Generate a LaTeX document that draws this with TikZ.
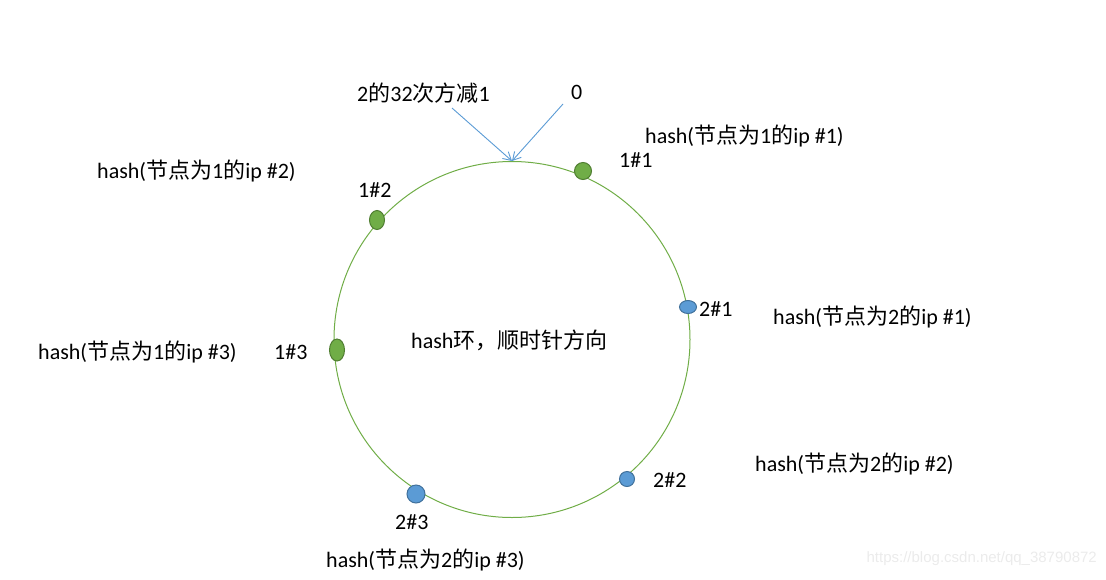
\documentclass[tikz,border=0pt]{standalone}
\usepackage{fontspec}
\setmainfont{Carlito}
\newfontfamily\cjk{Noto Sans CJK SC}
\newfontfamily\wmfont{Liberation Sans}
\usetikzlibrary{arrows.meta,shapes.geometric}
\newcommand{\zh}[1]{{\cjk #1}}
\definecolor{ogreen}{HTML}{70AD47}
\definecolor{ogreend}{HTML}{507E32}
\definecolor{oblue}{HTML}{5B9BD5}
\definecolor{oblued}{HTML}{41719C}
\tikzset{
  lbl/.style={anchor=west,inner sep=0pt,font=\fontsize{22}{26}\selectfont},
  gdot/.style={ellipse,draw=ogreend,fill=ogreen,line width=1pt,inner sep=0pt},
  bdot/.style={ellipse,draw=oblued,fill=oblue,line width=1pt,inner sep=0pt},
  ptr/.style={draw=oblue,line width=0.9pt,-{Straight Barb[length=8pt,width=9pt]}}
}
\begin{document}
\begin{tikzpicture}[x=1pt,y=-1pt]
\useasboundingbox (0,0) rectangle (1106,579);
\node[draw=ogreen,line width=1pt,circle,minimum size=356pt,inner sep=0pt] (ring) at (512,339.5) {};
% dots
\node[gdot,minimum width=17pt,minimum height=17pt] (d11) at (583,171) {};
\node[gdot,minimum width=15pt,minimum height=19pt] (d12) at (377,220) {};
\node[gdot,minimum width=15pt,minimum height=22pt] (d13) at (337,350) {};
\node[bdot,minimum width=17pt,minimum height=13pt] (d21) at (688,307) {};
\node[bdot,minimum width=15pt,minimum height=15pt] (d22) at (627,479) {};
\node[bdot,minimum width=18pt,minimum height=18pt] (d23) at (416,494) {};
% top labels and arrows
\node[lbl] (tmax) at (357,93) {2\zh{的}32\zh{次方减}1};
\node[lbl] (tzero) at (571,92) {0};
\coordinate (amax) at (452,108);
\coordinate (azero) at (563,104);
\draw[ptr] (amax) -- (ring.north);
\draw[ptr] (azero) -- (ring.north);
% point labels
\node[lbl] (l11) at (619,160) {1\#1};
\node[lbl] (l12) at (358,190) {1\#2};
\node[lbl] (l13) at (274,352) {1\#3};
\node[lbl] (l21) at (699,309) {2\#1};
\node[lbl] (l22) at (653,480) {2\#2};
\node[lbl] (l23) at (395,522) {2\#3};
% hash labels
\node[lbl] (h11) at (645,136) {hash(\zh{节点为}1\zh{的}ip \#1)};
\node[lbl] (h12) at (97,171) {hash(\zh{节点为}1\zh{的}ip \#2)};
\node[lbl] (h13) at (38,352) {hash(\zh{节点为}1\zh{的}ip \#3)};
\node[lbl] (h21) at (773,317) {hash(\zh{节点为}2\zh{的}ip \#1)};
\node[lbl] (h22) at (755,464) {hash(\zh{节点为}2\zh{的}ip \#2)};
\node[lbl] (h23) at (326,560) {hash(\zh{节点为}2\zh{的}ip \#3)};
\node[lbl] (center) at (411,340) {hash\zh{环，顺时针方向}};
% watermark
\node[anchor=east,inner sep=0pt,text=black!8,font=\wmfont\fontsize{15}{18}\selectfont] (wm) at (1097,559) {https://blog.csdn.net/qq\_38790872};
\end{tikzpicture}
\end{document}
